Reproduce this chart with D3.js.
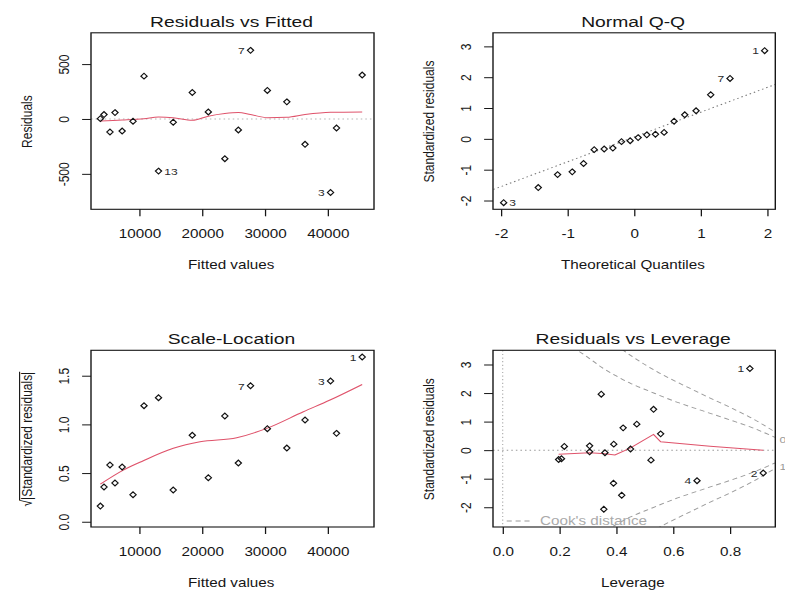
<!DOCTYPE html>
<html>
<head>
<meta charset="utf-8">
<script src="https://cdn.jsdelivr.net/npm/d3@7"></script>
<style>
  body { margin: 0; background: #fff; }
  svg { display: block; }
</style>
</head>
<body>
<svg width="785" height="592"></svg>
<script>
'use strict'

var obsId = [1, 2, 3, 4, 5, 6, 7, 8, 9, 10, 11, 12, 13, 14, 15, 16, 17, 18, 19, 20];
var fitted = [45490, 41400, 40450, 36390, 33490, 30390, 27710, 25770, 23620, 20990,
              18440, 15400, 13060, 10750, 9000, 7270, 6130, 5330, 4380, 3800];
var residuals = [400, -82, -670, -231, 156, 260, 625, -100, -362, 64,
                 241, -30, -475, 390, -21, -110, 58, -119, 40, 3];
var stdResid = [2.86, -0.80, -2.07, -1.07, 0.57, 0.91, 1.96, -0.35, -1.16, 0.21,
                0.78, -0.09, -1.58, 1.43, -0.06, -0.30, 0.15, -0.33, 0.13, 0.04];
var sqrtAbsStd = [1.692, 0.908, 1.446, 1.045, 0.757, 0.956, 1.397, 0.603, 1.086, 0.452,
                  0.888, 0.326, 1.274, 1.192, 0.277, 0.562, 0.398, 0.583, 0.357, 0.161];
var leverage = [0.870, 0.917, 0.356, 0.684, 0.556, 0.472, 0.347, 0.522, 0.390, 0.391,
                0.424, 0.360, 0.419, 0.531, 0.306, 0.207, 0.306, 0.197, 0.217, 0.450];
var theoQuantiles = [-1.96, -1.44, -1.15, -0.93, -0.76, -0.60, -0.45, -0.32, -0.19, -0.06,
                     0.06, 0.19, 0.32, 0.45, 0.60, 0.76, 0.93, 1.15, 1.44, 1.96];

// smoother lines (red)
var rvfSmoothX = [3800, 7270, 10750, 13060, 15400, 18440, 20990, 23620, 25770, 27710, 30390, 33490, 36390, 40450, 45490];
var rvfSmoothY = [-18, -9, 3, 18, 12, -12, 25, 49, 58, 40, 12, 15, 40, 61, 64];
var slSmoothX = [3800, 7450, 10640, 15420, 19670, 25510, 30290, 36120, 40370, 45490];
var slSmoothY = [0.387, 0.531, 0.627, 0.754, 0.822, 0.863, 0.959, 1.13, 1.25, 1.41];
var levSmoothX = [0.197, 0.307, 0.36, 0.395, 0.447, 0.531, 0.556, 0.73, 0.917];
var levSmoothY = [-0.14, -0.09, -0.13, -0.17, 0.06, 0.55, 0.29, 0.14, 0.0];

// Q-Q reference line, two ends
var qqLineX = [-2.3, 2.3];
var qqLineY = [-1.79, 1.91];

// Cook's distance contours (upper half; lower half is the mirror)
var cookHalfH = [0.27, 0.30, 0.35, 0.40, 0.45, 0.52, 0.60, 0.70, 0.80, 0.88, 0.958];
var cookHalfR = [3.45, 3.25, 2.89, 2.60, 2.34, 2.05, 1.73, 1.39, 1.06, 0.78, 0.45];
var cookOneH = [0.42, 0.45, 0.50, 0.55, 0.60, 0.66, 0.72, 0.80, 0.88, 0.958];
var cookOneR = [3.53, 3.32, 3.00, 2.71, 2.45, 2.16, 1.87, 1.50, 1.10, 0.64];
var cookLabels = ["0.5", "1"];
var cookLabelR = [0.38, -0.58];

// labelled observations per panel
var rvfLabelIds = [3, 7, 13];
var qqLabelIds = [1, 3, 7];
var slLabelIds = [1, 3, 7];
var levLabelIds = [1, 2, 4];

// ---- drawing ----
var SX = 1.27;  // the reference is stretched sideways, so draw in a squeezed space
var fontFam = '"Liberation Sans", Arial, sans-serif';
var ink = "#161616";
var red = "#DF536B";
var lightGray = "#b5b5b5";
var fmtInt = function(v) { return String(v); };
var fmt1 = function(v) { return v.toFixed(1); };

var svg = d3.select("svg");
var root = svg.append("g").attr("transform", "scale(" + SX + ",1)");

var rows = obsId.map(function(id, i) {
  return {
    id: id,
    fitted: fitted[i],
    resid: residuals[i],
    std: stdResid[i],
    sl: sqrtAbsStd[i],
    lev: leverage[i]
  };
});

var panelCount = 0;

function panel(c) {
  var x = d3.scaleLinear().domain(c.xd).range([c.l / SX, c.r / SX]);
  var y = d3.scaleLinear().domain(c.yd).range([c.b, c.t]);
  var g = root.append("g");
  var id = "clip" + (panelCount++);
  g.append("clipPath").attr("id", id).append("rect")
    .attr("x", c.l / SX)
    .attr("y", c.t)
    .attr("width", (c.r - c.l) / SX)
    .attr("height", c.b - c.t);
  var inner = g.append("g").attr("clip-path", "url(#" + id + ")");
  return { c: c, x: x, y: y, g: g, inner: inner };
}

function finish(p) {
  var c = p.c;
  p.g.append("rect")
    .attr("x", c.l / SX)
    .attr("y", c.t)
    .attr("width", (c.r - c.l) / SX)
    .attr("height", c.b - c.t)
    .attr("fill", "none")
    .attr("stroke", ink)
    .attr("stroke-width", 1.1);

  var xa = p.g.append("g")
    .attr("transform", "translate(0," + c.b + ")")
    .call(d3.axisBottom(p.x).tickValues(c.xt).tickFormat(c.xf).tickSize(7));
  xa.select(".domain").remove();
  xa.attr("font-size", 12).attr("font-family", fontFam).attr("color", ink);
  xa.selectAll("text").attr("y", 29).attr("dy", null);

  var ya = p.g.append("g")
    .attr("transform", "translate(" + (c.l / SX) + ",0)")
    .call(d3.axisLeft(p.y).tickValues(c.yt).tickFormat(c.yf).tickSize(7));
  ya.select(".domain").remove();
  ya.attr("font-size", 12).attr("font-family", fontFam).attr("color", ink);
  ya.selectAll("text")
    .attr("x", null)
    .attr("dy", null)
    .attr("text-anchor", "middle")
    .attr("transform", "translate(-17.4,0) rotate(-90)");

  p.g.append("text")
    .attr("x", (c.l + c.r) / 2 / SX - 0.8)
    .attr("y", c.t - 6.1)
    .attr("text-anchor", "middle")
    .attr("font-family", fontFam)
    .attr("font-size", 15.2)
    .attr("fill", ink)
    .text(c.title);

  p.g.append("text")
    .attr("x", (c.l + c.r) / 2 / SX - 1)
    .attr("y", c.b + 59.6)
    .attr("text-anchor", "middle")
    .attr("font-family", fontFam)
    .attr("font-size", 12)
    .attr("fill", ink)
    .text(c.xlab);

  var yl = p.g.append("g")
    .attr("transform", "translate(" + ((c.l - 58.7) / SX) + "," + ((c.t + c.b) / 2 + 0.5) + ") rotate(-90)");
  var t = yl.append("text")
    .attr("text-anchor", "middle")
    .attr("font-family", fontFam)
    .attr("font-size", 12)
    .attr("fill", ink)
    .text(c.ylab);
  if (c.sqrtLab) {
    // overline of the square root sign
    var total = t.node().getComputedTextLength();
    var rootLen = t.node().getSubStringLength(0, 1);
    yl.append("line")
      .attr("x1", -total / 2 + rootLen - 0.5)
      .attr("x2", total / 2)
      .attr("y1", -10)
      .attr("y2", -10)
      .attr("stroke", ink)
      .attr("stroke-width", 0.9);
  }
}

function diamonds(p, xKey, yKey, data) {
  p.g.append("g").selectAll("path")
    .data(data || rows)
    .enter()
    .append("path")
    .attr("transform", function(d) {
      return "translate(" + p.x(d[xKey]) + "," + p.y(d[yKey]) + ")";
    })
    .attr("d", "M0,-2.9L2.45,0L0,2.9L-2.45,0Z")
    .attr("fill", "none")
    .attr("stroke", "#111")
    .attr("stroke-width", 1.05);
}

function idLabels(p, xKey, yKey, ids, data) {
  var mid = (p.c.xd[0] + p.c.xd[1]) / 2;
  var sel = (data || rows).filter(function(d) { return ids.indexOf(d.id) >= 0; });
  p.g.append("g").selectAll("text")
    .data(sel)
    .enter()
    .append("text")
    .attr("x", function(d) {
      return p.x(d[xKey]) + (d[xKey] > mid ? -4.5 : 4.5);
    })
    .attr("y", function(d) { return p.y(d[yKey]) + 3.8; })
    .attr("text-anchor", function(d) { return d[xKey] > mid ? "end" : "start"; })
    .attr("font-family", fontFam)
    .attr("font-size", 9.5)
    .attr("fill", "#2a2a2a")
    .text(function(d) { return d.id; });
}

function smooth(p, xs, ys, curve) {
  var line = d3.line()
    .x(function(d, i) { return p.x(xs[i]); })
    .y(function(d, i) { return p.y(ys[i]); })
    .curve(curve || d3.curveLinear);
  p.inner.append("path")
    .attr("d", line(xs))
    .attr("fill", "none")
    .attr("stroke", red)
    .attr("stroke-width", 1);
}

function hLine(p, v, color) {
  p.inner.append("line")
    .attr("x1", p.x.range()[0]).attr("x2", p.x.range()[1])
    .attr("y1", p.y(v)).attr("y2", p.y(v))
    .attr("stroke", color)
    .attr("stroke-dasharray", "1.2,2.4");
}

// Residuals vs Fitted
var p1 = panel({
  l: 91, r: 374, t: 32.8, b: 209.3,
  xd: [2310, 47370], yd: [-823, 785],
  xt: [10000, 20000, 30000, 40000], yt: [-500, 0, 500],
  xf: fmtInt, yf: fmtInt,
  title: "Residuals vs Fitted", xlab: "Fitted values", ylab: "Residuals"
});
hLine(p1, 0, lightGray);
diamonds(p1, "fitted", "resid");
smooth(p1, rvfSmoothX, rvfSmoothY, d3.curveMonotoneX);
idLabels(p1, "fitted", "resid", rvfLabelIds);
finish(p1);

// Normal Q-Q
var qqRows = rows.slice().sort(function(a, b) { return a.std - b.std; })
  .map(function(d, i) { return { id: d.id, q: theoQuantiles[i], std: d.std }; });
var p2 = panel({
  l: 493, r: 775.3, t: 32.8, b: 209.3,
  xd: [-2.12, 2.12], yd: [-2.285, 3.44],
  xt: [-2, -1, 0, 1, 2], yt: [-2, -1, 0, 1, 2, 3],
  xf: fmtInt, yf: fmtInt,
  title: "Normal Q-Q", xlab: "Theoretical Quantiles", ylab: "Standardized residuals"
});
p2.inner.append("line")
  .attr("x1", p2.x(qqLineX[0])).attr("y1", p2.y(qqLineY[0]))
  .attr("x2", p2.x(qqLineX[1])).attr("y2", p2.y(qqLineY[1]))
  .attr("stroke", "#777")
  .attr("stroke-dasharray", "1.2,2.4");
diamonds(p2, "q", "std", qqRows);
idLabels(p2, "q", "std", qqLabelIds, qqRows);
finish(p2);

// Scale-Location
var p3 = panel({
  l: 91, r: 374, t: 350.3, b: 527,
  xd: [2310, 47370], yd: [-0.054, 1.761],
  xt: [10000, 20000, 30000, 40000], yt: [0, 0.5, 1, 1.5],
  xf: fmtInt, yf: fmt1,
  title: "Scale-Location", xlab: "Fitted values",
  ylab: "\u221A|Standardized residuals|", sqrtLab: true
});
diamonds(p3, "fitted", "sl");
smooth(p3, slSmoothX, slSmoothY, d3.curveMonotoneX);
idLabels(p3, "fitted", "sl", slLabelIds);
finish(p3);

// Residuals vs Leverage
var p4 = panel({
  l: 493, r: 775.3, t: 350.3, b: 527,
  xd: [-0.034, 0.9595], yd: [-2.692, 3.497],
  xt: [0, 0.2, 0.4, 0.6, 0.8], yt: [-2, -1, 0, 1, 2, 3],
  xf: fmt1, yf: fmtInt,
  title: "Residuals vs Leverage", xlab: "Leverage", ylab: "Standardized residuals"
});
hLine(p4, 0, "#999");
p4.inner.append("line")
  .attr("x1", p4.x(0)).attr("x2", p4.x(0))
  .attr("y1", p4.c.t).attr("y2", p4.c.b)
  .attr("stroke", lightGray)
  .attr("stroke-dasharray", "1.2,2.4");

var cookLine = function(hs, rs, sign) {
  return d3.line()
    .x(function(d, i) { return p4.x(hs[i]); })
    .y(function(d, i) { return p4.y(sign * rs[i]); })
    .curve(d3.curveMonotoneX)(hs);
};
[[cookHalfH, cookHalfR], [cookOneH, cookOneR]].forEach(function(c) {
  [1, -1].forEach(function(s) {
    p4.inner.append("path")
      .attr("d", cookLine(c[0], c[1], s))
      .attr("fill", "none")
      .attr("stroke", "#9a9a9a")
      .attr("stroke-width", 0.9)
      .attr("stroke-dasharray", "4,3");
  });
});
diamonds(p4, "lev", "std");
smooth(p4, levSmoothX, levSmoothY);
idLabels(p4, "lev", "std", levLabelIds);

// Cook's distance legend and contour labels (the right one runs off the edge, as in the source)
p4.g.append("line")
  .attr("x1", 506.7 / SX).attr("x2", 531.7 / SX)
  .attr("y1", 521).attr("y2", 521)
  .attr("stroke", "#9a9a9a")
  .attr("stroke-dasharray", "4,3");
p4.g.append("text")
  .attr("x", 540 / SX)
  .attr("y", 525.3)
  .attr("font-family", fontFam)
  .attr("font-size", 12)
  .attr("fill", "#aaa")
  .text("Cook's distance");
p4.g.selectAll(".cooklab")
  .data(cookLabels)
  .enter()
  .append("text")
  .attr("class", "cooklab")
  .attr("x", 779.5 / SX)
  .attr("y", function(d, i) { return p4.y(cookLabelR[i]) + 3.3; })
  .attr("font-family", fontFam)
  .attr("font-size", 9.5)
  .attr("fill", "#999")
  .text(function(d) { return d; });
finish(p4);
</script>
</body>
</html>
